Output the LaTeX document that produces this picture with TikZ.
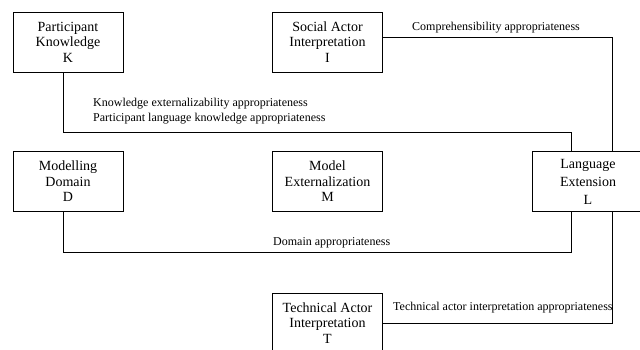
\documentclass[tikz,border=0pt]{standalone}
\usepackage{fontspec}
\setmainfont{Liberation Serif}
\usetikzlibrary{calc}

\begin{document}
\begin{tikzpicture}[x=1pt,y=-1pt,
  blk/.style={draw,line width=0.8pt,minimum width=110pt,minimum height=60pt,inner sep=0pt,align=center,font=\fontsize{14}{15.5}\selectfont},
  lbl/.style={anchor=west,inner sep=0pt,align=left,font=\fontsize{12}{15}\selectfont},
  con/.style={line width=0.8pt}]
  \clip (0,0) rectangle (640,350);
  \useasboundingbox (0,0) rectangle (640,350);
  % Boxes
  \node[blk] (K) at (68,42) {Participant\\Knowledge\\K};
  \node[blk] (I) at (327.5,42) {Social Actor\\Interpretation\\I};
  \node[blk] (D) at (68,181.5) {Modelling\\Domain\\D};
  \node[blk] (M) at (327.5,181.5) {Model\\Externalization\\M};
  \node[blk,minimum width=112pt,font=\fontsize{14}{18}\selectfont] (L) at (588,181.5) {Language\\Extension\\L};
  \node[blk] (T) at (327.5,323) {Technical Actor\\Interpretation\\T};
  % Connection points
  \coordinate (Kout) at ($(K.south west)!0.455!(K.south east)$);
  \coordinate (Dout) at ($(D.south west)!0.455!(D.south east)$);
  \coordinate (Lnw) at ($(L.north west)!0.357!(L.north east)$);
  \coordinate (Lne) at ($(L.north west)!0.714!(L.north east)$);
  \coordinate (Lsw) at ($(L.south west)!0.357!(L.south east)$);
  \coordinate (Lse) at ($(L.south west)!0.714!(L.south east)$);
  % Connectors
  \draw[con] (Kout) -- ++(0,60) -| (Lnw);
  \draw[con] ($(I.north east)!0.42!(I.south east)$) -| (Lne);
  \draw[con] (Dout) -- ++(0,40) -| (Lsw);
  \draw[con] ($(T.north east)!0.5!(T.south east)$) -| (Lse);
  % Labels
  \node[lbl] (lc) at (412,28) {Comprehensibility appropriateness};
  \node[lbl] (lk) at (93,111) {Knowledge externalizability appropriateness\\Participant language knowledge appropriateness};
  \node[lbl] (ld) at (273,243) {Domain appropriateness};
  \node[lbl] (lt) at (393,308) {Technical actor interpretation appropriateness};
\end{tikzpicture}
\end{document}
